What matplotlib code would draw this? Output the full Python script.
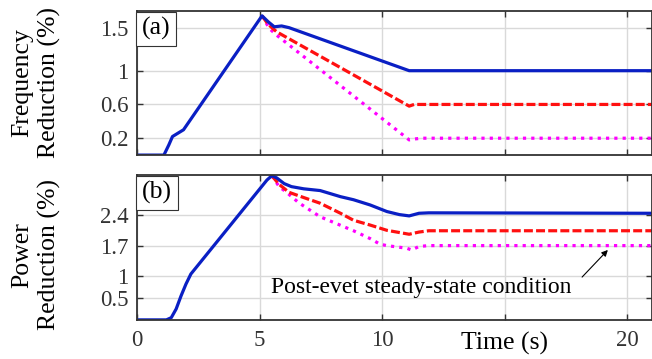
import matplotlib
matplotlib.use("Agg")
import matplotlib.pyplot as plt

# ---- data ----
# (a) frequency reduction
t_fa_blue = [0, 1.1, 1.3, 1.45, 1.9, 5.1, 5.35, 5.6, 5.9, 6.2, 11.1, 11.4, 21]
fa_blue = [0, 0, 0.12, 0.22, 0.30, 1.65, 1.58, 1.52, 1.53, 1.51, 1.0, 1.0, 1.0]
t_fa_red = [5.1, 5.35, 5.7, 11.1, 11.3, 11.6, 21]
fa_red = [1.65, 1.55, 1.46, 0.58, 0.60, 0.60, 0.60]
t_fa_mag = [5.1, 5.4, 5.7, 11.1, 11.3, 11.6, 21]
fa_mag = [1.65, 1.50, 1.42, 0.18, 0.19, 0.20, 0.20]

# (b) power reduction
t_pb_blue = [0, 1.2, 1.4, 1.6, 1.8, 2.0, 2.2, 5.3, 5.5, 5.7, 6.0, 6.3, 6.8,
             7.47, 8.3, 8.83, 9.51, 10.19, 10.7, 11.1, 11.5, 11.9, 21]
pb_blue = [0, 0, 0.05, 0.25, 0.55, 0.82, 1.05, 3.2, 3.3, 3.25, 3.12, 3.05, 3.0,
           2.96, 2.82, 2.75, 2.63, 2.48, 2.41, 2.38, 2.44, 2.45, 2.44]
t_pb_red = [5.5, 5.8, 6.2, 6.8, 7.47, 8.3, 8.83, 9.51, 10.19, 11.1, 11.5, 11.9, 21]
pb_red = [3.3, 3.1, 2.92, 2.8, 2.67, 2.44, 2.28, 2.17, 2.05, 1.96, 2.01, 2.04, 2.04]
t_pb_mag = [5.5, 5.8, 6.1, 6.6, 7.47, 8.83, 9.51, 9.92, 10.19, 11.0, 11.2, 11.5, 11.9, 21]
pb_mag = [3.3, 3.05, 2.92, 2.68, 2.36, 2.04, 1.86, 1.73, 1.70, 1.64, 1.60, 1.68, 1.70, 1.70]

x_ticks = [0, 5, 10, 15, 20]
x_ticklabels = ['0', '5', '10', '', '20']
fa_ticks = [0.2, 0.6, 1, 1.5]
fa_ticklabels = ['0.2', '0.6', '1', '1.5']
pb_ticks = [0.5, 1, 1.7, 2.4]
pb_ticklabels = ['0.5', '1', '1.7', '2.4']

plt.rcParams['font.family'] = ['Liberation Serif', 'DejaVu Serif']

BLUE = '#0a1fc4'
RED = '#ff1010'
MAG = '#ff00ff'
TXT = '#333333'

fig = plt.figure(figsize=(6.52, 3.59), dpi=100)
ax1 = fig.add_axes([0.210, 0.568, 0.790, 0.402])
ax2 = fig.add_axes([0.210, 0.109, 0.790, 0.404])


def style(ax, ylim, yt, ytl):
    ax.set_xlim(0, 21)
    ax.set_ylim(*ylim)
    ax.set_xticks(x_ticks)
    ax.set_yticks(yt)
    ax.set_yticklabels(ytl, fontsize=16.5, color=TXT)
    ax.grid(True, color='#d9d9d9', lw=1.0)
    ax.set_axisbelow(True)
    ax.tick_params(direction='in', top=True, right=True, length=4,
                   width=1.0, color=TXT)
    ax.tick_params(axis='y', pad=6)
    ax.tick_params(axis='x', pad=7)
    for s in ax.spines.values():
        s.set_color(TXT)
        s.set_linewidth(1.3)


def curves(ax, tb, yb, tr, yr, tm, ym):
    ax.plot(tm, ym, color=MAG, lw=2.3, dashes=(1, 1.6), dash_capstyle='butt')
    ax.plot(tr, yr, color=RED, lw=2.3, dashes=(2.8, 1.0), dash_capstyle='butt')
    ax.plot(tb, yb, '-', color=BLUE, lw=2.3)


# top panel
curves(ax1, t_fa_blue, fa_blue, t_fa_red, fa_red, t_fa_mag, fa_mag)
style(ax1, (0, 1.71), fa_ticks, fa_ticklabels)
ax1.set_xticklabels([])
ax1.set_ylabel('Frequency\nReduction (%)', fontsize=18.5, linespacing=1.3)
ax1.yaxis.set_label_coords(-0.147, 0.5)
ax1.text(0.01, 0.955, '(a)', transform=ax1.transAxes, fontsize=18.5,
         ha='left', va='top',
         bbox=dict(boxstyle='square,pad=0.22', fc='white', ec=TXT, lw=0.8))

# bottom panel
curves(ax2, t_pb_blue, pb_blue, t_pb_red, pb_red, t_pb_mag, pb_mag)
style(ax2, (0, 3.32), pb_ticks, pb_ticklabels)
ax2.set_xticklabels(x_ticklabels, fontsize=16.5, color=TXT)
ax2.set_ylabel('Power\nReduction (%)', fontsize=18.5, linespacing=1.3)
ax2.yaxis.set_label_coords(-0.147, 0.45)
ax2.text(0.01, 0.955, '(b)', transform=ax2.transAxes, fontsize=18.5,
         ha='left', va='top',
         bbox=dict(boxstyle='square,pad=0.22', fc='white', ec=TXT, lw=0.8))
ax2.text(15, -0.085, 'Time (s)', transform=ax2.get_xaxis_transform(),
         fontsize=18.5, ha='center', va='top')

ax2.text(5.45, 0.75, 'Post-evet steady-state condition', fontsize=17,
         ha='left', va='center')
ax2.annotate('', xy=(19.2, 1.6), xytext=(18.15, 0.98),
             arrowprops=dict(arrowstyle='-|>', color='black', lw=0.8,
                             mutation_scale=9, shrinkA=0, shrinkB=0))

fig.savefig('out.png', dpi=100)
